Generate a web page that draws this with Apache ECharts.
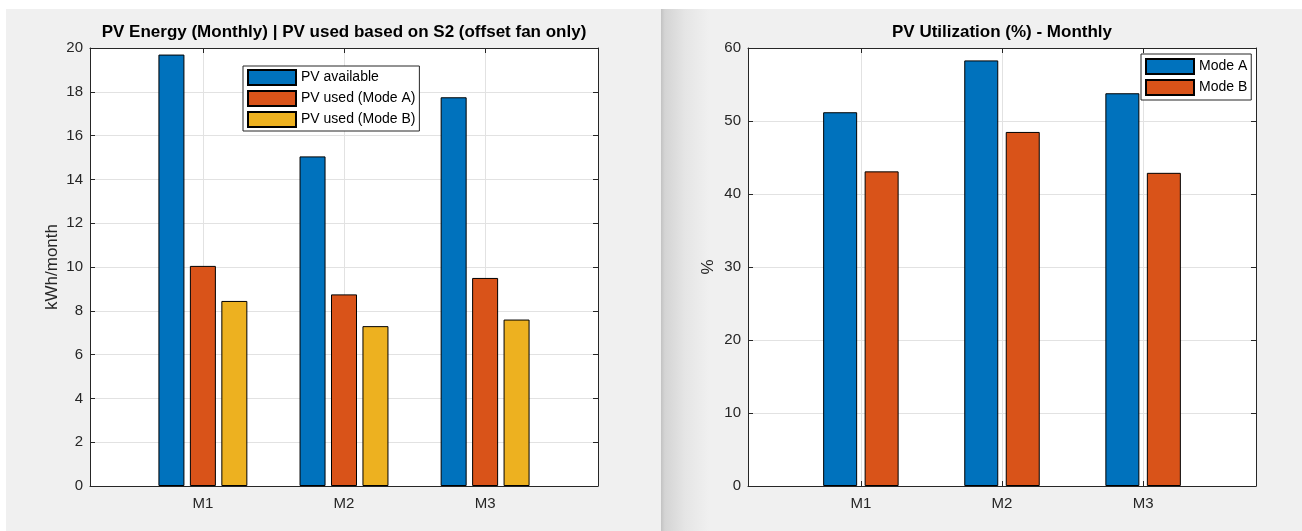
<!DOCTYPE html>
<html>
<head>
<meta charset="utf-8">
<script src="https://cdn.jsdelivr.net/npm/echarts@6/dist/echarts.min.js"></script>
<style>
html,body{margin:0;padding:0;background:#fff;}
#c{width:1302px;height:531px;}
</style>
</head>
<body>
<div id="c"></div>
<script>
// ---- data ----
const categories = ['M1', 'M2', 'M3'];
const pvAvailable = [19.7, 15.05, 17.75];
const pvUsedModeA = [10.05, 8.75, 9.5];
const pvUsedModeB = [8.45, 7.3, 7.6];
const utilModeA = [51.2, 58.3, 53.8];
const utilModeB = [43.1, 48.5, 42.9];
const energyAxis = { min: 0, max: 20, step: 2 };
const utilAxis = { min: 0, max: 60, step: 10 };

const FONT = "'Liberation Sans', Arial, Helvetica, sans-serif";
const AX = '#262626';
const GRID = '#e2e2e2';
const C1 = '#0072BD', C2 = '#D95319', C3 = '#EDB120';
const catPos = categories.map((c, i) => i + 1);

function pts(arr) { return arr.map((v, i) => [catPos[i], v]); }

function xAxes(gi) {
  const base = {
    type: 'value', gridIndex: gi, min: 0.2, max: 3.8,
    axisLine: { show: true, onZero: false, lineStyle: { color: AX, width: 1 } },
    axisTick: { show: true, inside: true, length: 5, customValues: catPos, lineStyle: { color: AX } },
    splitLine: { show: false }
  };
  return [
    Object.assign({}, base, {
      position: 'bottom',
      axisLabel: { show: true, customValues: catPos, margin: 10, color: AX, fontSize: 15, fontFamily: FONT,
        formatter: v => categories[Math.round(v) - 1] || '' },
      splitLine: { show: true, lineStyle: { color: GRID, width: 1 } }
    }),
    Object.assign({}, base, { position: 'top', axisLabel: { show: false } })
  ];
}
function yAxes(gi, ax, name, gap) {
  const base = {
    type: 'value', gridIndex: gi, min: ax.min, max: ax.max, interval: ax.step,
    axisLine: { show: true, lineStyle: { color: AX, width: 1 } },
    axisTick: { show: true, inside: true, length: 5, lineStyle: { color: AX } },
    splitLine: { show: false }
  };
  return [
    Object.assign({}, base, {
      position: 'left', name: name, nameLocation: 'middle', nameGap: gap, nameRotate: 90,
      nameTextStyle: { color: AX, fontSize: 17, fontFamily: FONT },
      axisLabel: { show: true, margin: 7, color: AX, fontSize: 15, fontFamily: FONT },
      splitLine: { show: true, lineStyle: { color: GRID, width: 1 } }
    }),
    Object.assign({}, base, { position: 'right', axisLabel: { show: false } })
  ];
}

const barStyle = c => ({ color: c, borderColor: '#000', borderWidth: 1 });

const chart = echarts.init(document.getElementById('c'), null, { renderer: 'canvas' });
chart.setOption({
  animation: false,
  textStyle: { fontFamily: FONT },
  graphic: [
    { type: 'rect', z: -100, shape: { x: 6, y: 9, width: 655, height: 522 }, style: { fill: '#f0f0f0' } },
    { type: 'rect', z: -100, shape: { x: 661, y: 9, width: 641, height: 522 }, style: { fill: '#f0f0f0' } },
    { type: 'rect', z: -99, shape: { x: 661, y: 9, width: 48, height: 522 },
      style: { fill: new echarts.graphic.LinearGradient(0, 0, 1, 0, [
        { offset: 0, color: '#c2c2c2' }, { offset: 0.08, color: '#d4d4d4' },
        { offset: 0.5, color: '#e5e5e5' }, { offset: 1, color: '#f0f0f0' }]) } }
  ],
  title: [
    { text: 'PV Energy (Monthly) | PV used based on S2 (offset fan only)', left: 344, top: 24, textAlign: 'center', padding: 0,
      textStyle: { fontSize: 17, fontWeight: 'bold', color: '#000', fontFamily: FONT } },
    { text: 'PV Utilization (%) - Monthly', left: 1002, top: 24, textAlign: 'center', padding: 0,
      textStyle: { fontSize: 17, fontWeight: 'bold', color: '#000', fontFamily: FONT } }
  ],
  legend: [
    { data: ['PV available', 'PV used (Mode A)', 'PV used (Mode B)'], orient: 'vertical', left: 243, top: 66,
      itemWidth: 48, itemHeight: 15, itemGap: 4, padding: [3, 4, 3, 4], icon: 'rect',
      backgroundColor: '#fff', borderColor: AX, borderWidth: 1, borderRadius: 0,
      textStyle: { fontSize: 14, color: '#000', fontFamily: FONT } },
    { data: ['Mode A', 'Mode B'], orient: 'vertical', left: 1141, top: 54,
      itemWidth: 48, itemHeight: 15, itemGap: 4, padding: [4, 4, 4, 4], icon: 'rect',
      backgroundColor: '#fff', borderColor: AX, borderWidth: 1, borderRadius: 0,
      textStyle: { fontSize: 14, color: '#000', fontFamily: FONT } }
  ],
  grid: [
    { left: 90, right: 704, top: 48, bottom: 45, show: true, backgroundColor: '#fff', borderWidth: 0 },
    { left: 748, right: 46, top: 48, bottom: 45, show: true, backgroundColor: '#fff', borderWidth: 0 }
  ],
  xAxis: xAxes(0).concat(xAxes(1)),
  yAxis: yAxes(0, energyAxis, 'kWh/month', 29).concat(yAxes(1, utilAxis, '%', 31)),
  series: [
    { name: 'PV available', type: 'bar', xAxisIndex: 0, yAxisIndex: 0, data: pts(pvAvailable), barWidth: 26, barGap: '21%', itemStyle: barStyle(C1) },
    { name: 'PV used (Mode A)', type: 'bar', xAxisIndex: 0, yAxisIndex: 0, data: pts(pvUsedModeA), barWidth: 26, barGap: '21%', itemStyle: barStyle(C2) },
    { name: 'PV used (Mode B)', type: 'bar', xAxisIndex: 0, yAxisIndex: 0, data: pts(pvUsedModeB), barWidth: 26, barGap: '21%', itemStyle: barStyle(C3) },
    { name: 'Mode A', type: 'bar', xAxisIndex: 2, yAxisIndex: 2, data: pts(utilModeA), barWidth: 34, barGap: '22%', itemStyle: barStyle(C1) },
    { name: 'Mode B', type: 'bar', xAxisIndex: 2, yAxisIndex: 2, data: pts(utilModeB), barWidth: 34, barGap: '22%', itemStyle: barStyle(C2) }
  ]
});
</script>
</body>
</html>
